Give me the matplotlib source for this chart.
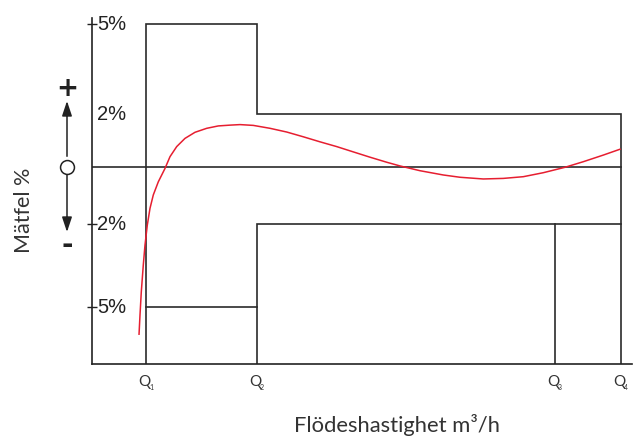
import numpy as np
import matplotlib
matplotlib.use("Agg")
import matplotlib.pyplot as plt
from matplotlib.lines import Line2D

# ---- data (schematic flow units, error in %) ----
q_names = ["Q", "Q", "Q", "Q"]
q_subs = ["1", "2", "3", "4"]
q_pos = [54, 165, 463, 529]
upper_limits = [5, 2]      # between Q1-Q2, Q2-Q4
lower_limits = [-5, -2]
ytick_vals = [5, 2, -2, -5]
ytick_labels = ["5%", "2%", "2%", "5%"]

curve_x = [47, 48, 49.3, 51.3, 53, 55.3, 58, 61.3, 66.3, 73, 78, 84.7, 93, 103, 114.7,
           126.3, 138, 148, 161.3, 178, 194.7, 211.3, 228, 244.7, 261.3, 278, 294.7,
           308, 328, 351.3, 368, 391.3, 411.3, 431.3, 451.3, 473, 491.3, 511.3, 528.7]
curve_y = [-6.01, -5.29, -4.45, -3.48, -2.76, -2.04, -1.45, -0.98, -0.52, -0.05, 0.39,
           0.77, 1.08, 1.31, 1.46, 1.55, 1.58, 1.60, 1.57, 1.46, 1.32, 1.14, 0.95, 0.77,
           0.57, 0.37, 0.18, 0.04, -0.13, -0.28, -0.36, -0.42, -0.40, -0.34, -0.20,
           -0.01, 0.20, 0.45, 0.68]

# schematic (non-uniform) vertical scale of the original drawing
V = [-8, -5, -2, 0, 2, 5, 8]
H = [-223.0, -140.0, -57.0, 0.0, 53.0, 143.0, 233.0]

def fwd(v):
    return np.interp(v, V, H)

def inv(h):
    return np.interp(h, H, V)

W, Hh = 635, 437
fig = plt.figure(figsize=(W / 100, Hh / 100), dpi=100)
ax = fig.add_axes([92 / W, 73 / Hh, 540 / W, 346 / Hh])
ax.set_yscale("function", functions=(fwd, inv))
ax.set_xlim(0, 540)
ax.set_ylim(-7.06, 5.2)

for s in ["top", "right"]:
    ax.spines[s].set_visible(False)
for s in ["left", "bottom"]:
    ax.spines[s].set_linewidth(1.2)
    ax.spines[s].set_color("#222222")

lc = "#2a2a2a"
lw = 1.2
ymin = -7.06
q1, q2, q3, q4 = q_pos
# upper limit line
ax.plot([q1, q1, q2, q2, q4, q4], [ymin, upper_limits[0], upper_limits[0], upper_limits[1],
                                   upper_limits[1], ymin], color=lc, lw=lw, solid_joinstyle="miter")
# lower limit line
ax.plot([q1, q2], [lower_limits[0], lower_limits[0]], color=lc, lw=lw)
ax.plot([q2, q2, q4], [ymin, lower_limits[1], lower_limits[1]], color=lc, lw=lw, solid_joinstyle="miter")
ax.plot([q3, q3], [ymin, lower_limits[1]], color=lc, lw=lw)
# zero line
ax.plot([0, q4], [0, 0], color=lc, lw=lw)

# error curve
ax.plot(curve_x, curve_y, color="#e61e30", lw=1.1, solid_capstyle="butt",
        solid_joinstyle="round")

# y ticks
ax.set_yticks(ytick_vals)
ax.set_yticklabels([])
ax.yaxis.set_minor_locator(matplotlib.ticker.NullLocator())
ax.tick_params(axis="y", direction="inout", length=7, width=1.0, color="#222222")
for t, v in zip(ax.yaxis.get_major_ticks(), ytick_vals):
    if v == 2:
        t.tick1line.set_visible(False)
for v, lab in zip(ytick_vals, ytick_labels):
    ax.text(5, v, lab, ha="left", va="center", fontsize=14.5,
            family="Liberation Sans", color="#222222")

# x ticks (Q labels)
ax.set_xticks([])
for x, n, sub in zip(q_pos, q_names, q_subs):
    ax.annotate(n, xy=(x, 0), xycoords=("data", "axes fraction"), xytext=(-2, -18),
                textcoords="offset pixels", ha="center", va="center",
                fontsize=11, family="Lato", color="#333333")
    ax.annotate(sub, xy=(x, 0), xycoords=("data", "axes fraction"), xytext=(5, -23),
                textcoords="offset pixels", ha="center", va="center",
                fontsize=5, family="Lato", color="#333333")

# axis labels
fig.text(397 / W, 1 - 425 / Hh, "Flödeshastighet m³/h", ha="center", va="center",
         fontsize=15.8, family="Lato", color="#333333")
fig.text(24 / W, 1 - 210 / Hh, "Mätfel %", ha="center", va="center", rotation=90,
         fontsize=15.5, family="Lato", color="#333333")

# sign indicator (+ / o / -)
def fp(x, y):
    return (x / W, 1 - y / Hh)

fig.text(*fp(67, 89), "+", ha="center", va="center", fontsize=19, fontweight="bold",
         family="DejaVu Sans", color="#222222")
fig.text(*fp(67, 245), "-", ha="center", va="center", fontsize=20, fontweight="bold",
         family="DejaVu Sans", color="#222222")
fig.add_artist(Line2D([fp(67, 156)[0]] * 2, [fp(67, 156)[1], fp(67, 113)[1]],
                      transform=fig.transFigure, color="#222222", lw=1.1))
fig.add_artist(Line2D([fp(67, 175)[0]] * 2, [fp(67, 175)[1], fp(67, 220)[1]],
                      transform=fig.transFigure, color="#222222", lw=1.1))
ax.annotate("", xy=fp(67, 101), xycoords="figure fraction", xytext=fp(67, 116),
            textcoords="figure fraction",
            arrowprops=dict(arrowstyle="-|>,head_length=0.9,head_width=0.3", color="#222222",
                            lw=1.1, shrinkA=0, shrinkB=0))
ax.annotate("", xy=fp(67, 232), xycoords="figure fraction", xytext=fp(67, 217),
            textcoords="figure fraction",
            arrowprops=dict(arrowstyle="-|>,head_length=0.9,head_width=0.3", color="#222222",
                            lw=1.1, shrinkA=0, shrinkB=0))
fig.add_artist(Line2D([fp(67, 167)[0]], [fp(67, 167)[1]], transform=fig.transFigure,
                      marker="o", ms=10, mfc="white", mec="#222222", mew=1.1))

fig.savefig("out.png", dpi=100)
